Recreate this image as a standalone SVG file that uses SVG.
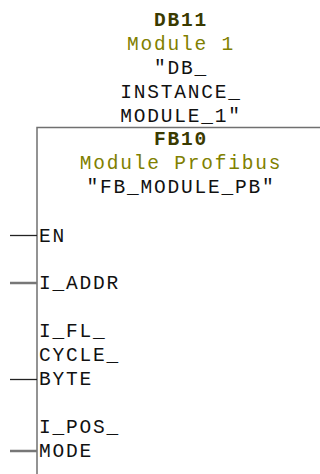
<svg xmlns="http://www.w3.org/2000/svg" width="320" height="474" viewBox="0 0 320 474">
<style>
text{font-family:"Liberation Mono","Courier New",monospace;font-size:19.5px;letter-spacing:1.8px}
.c{text-anchor:middle}
.h{fill:#3a3a00;font-weight:bold}
.o{fill:#808000}
.k{fill:#111}
.box{fill:none;stroke:#707070;stroke-width:1.5}
.p1{stroke:#222;stroke-width:1.3}
.p2{stroke:#777;stroke-width:2.5}
</style>
<rect width="320" height="474" fill="#fff"/>
<g id="db-header">
<text class="c h" x="181" y="26">DB11</text>
<text class="c o" x="181" y="50">Module 1</text>
<text class="c k" x="181" y="74">"DB_</text>
<text class="c k" x="181" y="98">INSTANCE_</text>
<text class="c k" x="181" y="122">MODULE_1"</text>
</g>
<g id="fb-block">
<path class="box" d="M320,127.5 H37 V474"/>
<text class="c h" x="181" y="145">FB10</text>
<text class="c o" x="181" y="169">Module Profibus</text>
<text class="c k" x="181" y="193">"FB_MODULE_PB"</text>
</g>
<g id="pin-en"><text class="k" x="39" y="242">EN</text></g>
<g id="pin-iaddr"><text class="k" x="39" y="289">I_ADDR</text></g>
<g id="pin-iflcycle"><text class="k" x="39" y="337">I_FL_</text><text class="k" x="39" y="361">CYCLE_</text><text class="k" x="39" y="385">BYTE</text></g>
<g id="pin-iposmode"><text class="k" x="39" y="433">I_POS_</text><text class="k" x="39" y="457">MODE</text></g>
<g id="connectors">
<line class="p1" x1="10" y1="235.5" x2="37" y2="235.5"/>
<line class="p2" x1="10" y1="283" x2="37" y2="283"/>
<line class="p1" x1="10" y1="379.5" x2="37" y2="379.5"/>
<line class="p2" x1="10" y1="451" x2="37" y2="451"/>
</g>
</svg>
